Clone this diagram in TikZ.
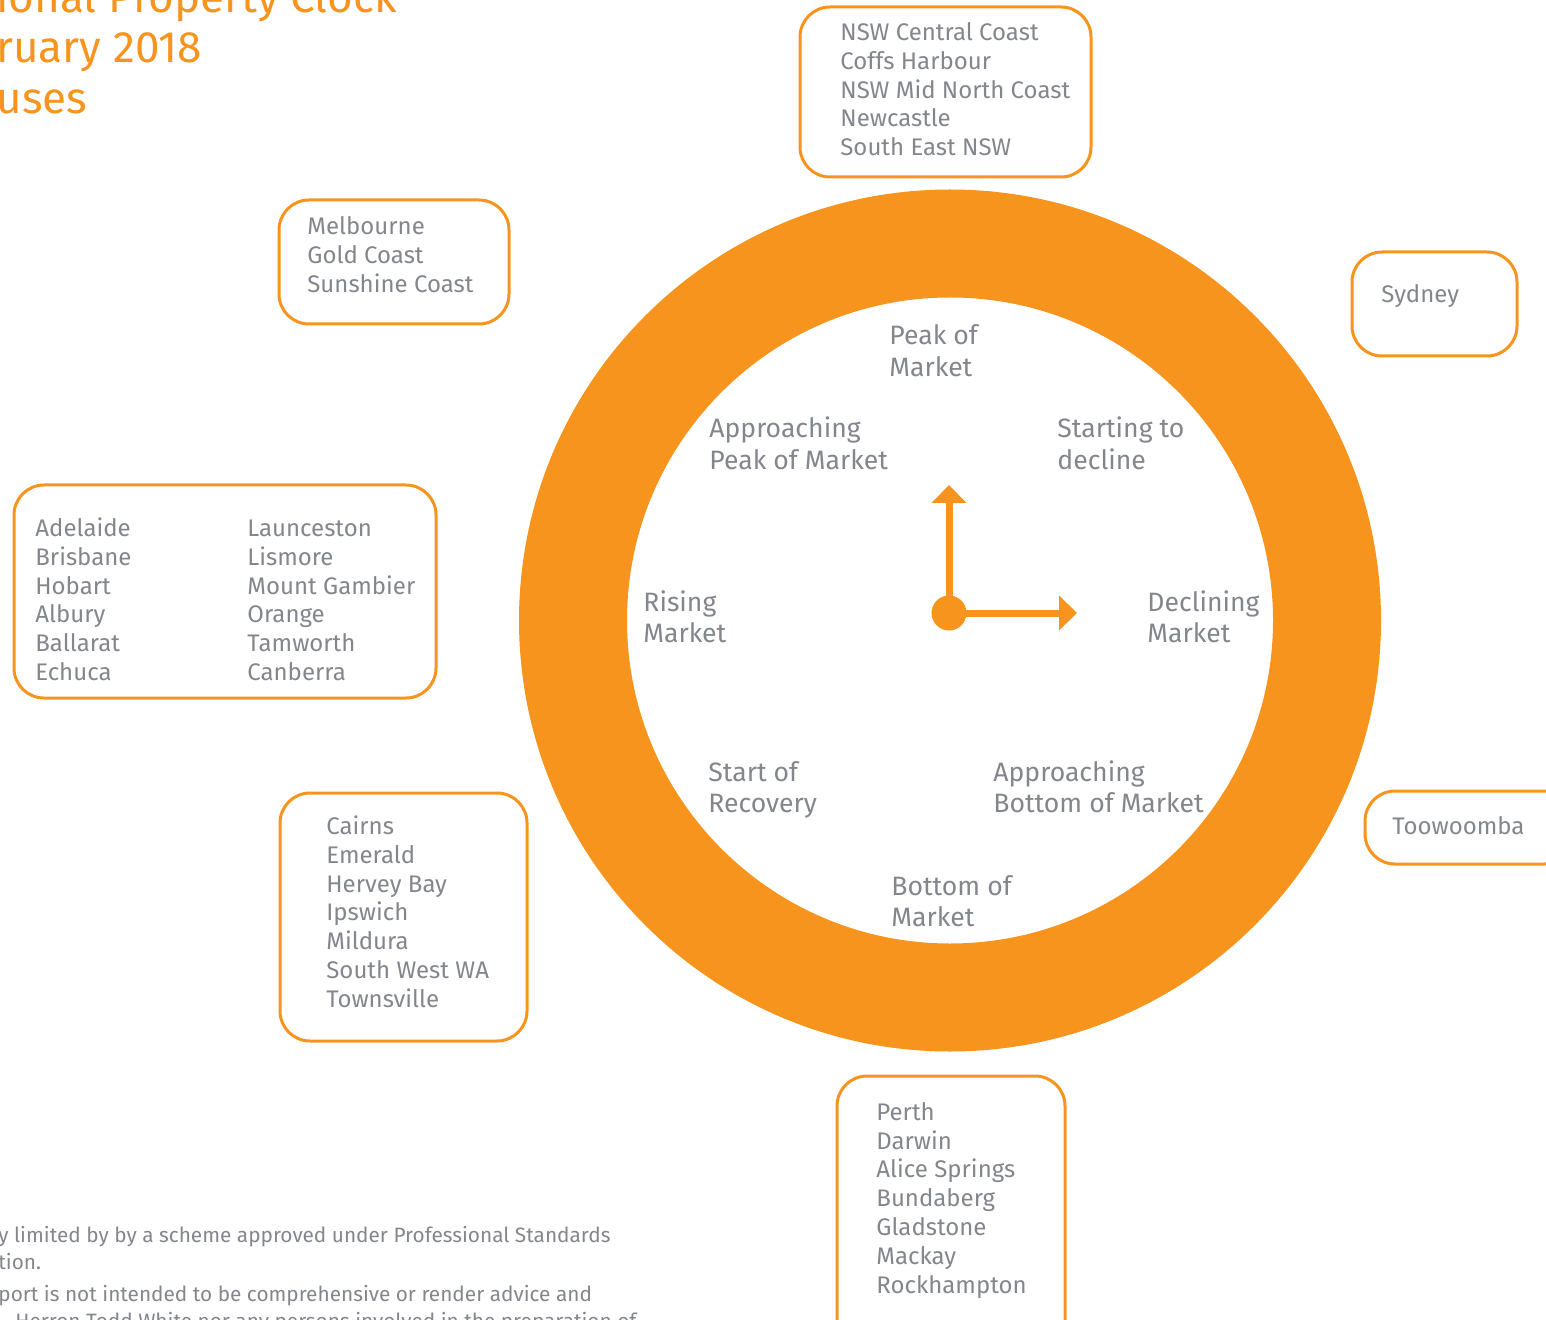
\documentclass[tikz,border=0pt]{standalone}
\usepackage{fontspec}
\setmainfont{Fira Sans}
\usepackage{xcolor}
\usetikzlibrary{arrows.meta, fit}

\definecolor{clockorange}{RGB}{247,148,30}
\definecolor{citygrey}{RGB}{132,134,141}

\tikzset{
    titletext/.style={text=clockorange, font=\fontsize{22}{25.3}\selectfont, align=left, anchor=base west, inner sep=0pt},
    phase/.style={text=citygrey, font=\fontsize{13.3}{15.8}\selectfont, align=left, anchor=base west, inner sep=0pt},
    citylist/.style={text=citygrey, font=\fontsize{12}{14.4}\selectfont, align=left, anchor=base west, inner sep=0pt},
    smallprint/.style={text=citygrey, font=\fontsize{10.4}{13.3}\selectfont, align=left, anchor=base west, inner sep=0pt},
    cityframe/.style={draw=clockorange, line width=1.5pt, rounded corners=15pt, inner sep=0pt},
    hand/.style={clockorange, line width=3.5pt, -{Triangle[length=9pt,width=17pt]}},
}

\begin{document}
\begin{tikzpicture}[x=0.5pt,y=0.5pt]
        % Page size, anything over the edge is cut off
        \useasboundingbox (0,0) rectangle (1546,-1320);
        \clip (0,0) rectangle (1546,-1320);

        % Title (runs off the left edge); nodes are placed by the baseline of their last line
        \node[titletext] (title) at (-4,-113.5) {ional Property Clock\\ruary 2018\\uses};

        % Draw the orange ring
        \fill[clockorange, even odd rule] (950,-620.5) circle[radius=215.5pt]
            (950,-620.5) circle[radius=161.5pt];

        % The eight phases round the dial
        \foreach \x/\y/\name/\txt in {
            889/376.6/peak/{Peak of\\Market},
            709/469.6/approachpeak/{Approaching\\Peak of Market},
            1057/469.6/startdecline/{Starting to\\decline},
            643/642.6/rising/{Rising\\Market},
            1147/642.6/declining/{Declining\\Market},
            708/812.6/startrecovery/{Start of\\Recovery},
            993/812.6/approachbottom/{Approaching\\Bottom of Market},
            891/926.6/bottom/{Bottom of\\Market}} {
            \node[phase] (\name) at (\x,-\y) {\txt};
        }

        % Clock hands
        \node[circle, fill=clockorange, minimum size=17.5pt, inner sep=0pt] (hub) at (949,-613) {};
        \coordinate (noon) at (949,-485);
        \coordinate (three) at (1077,-613);
        \draw[hand] (hub.center) -- (noon);
        \draw[hand] (hub.center) -- (three);

        % Frames round the city lists
        \foreach \name/\ax/\ay/\bx/\by in {
            nsw/800/7/1091/177,
            melb/279/200/509/324,
            syd/1352/252/1517/356,
            adel/14/485/436/698,
            cairns/280/793/527/1041,
            toow/1365/791/1575/864,
            perth/837/1076/1065/1360} {
            \node[cityframe, fit={(\ax,-\ay) (\bx,-\by)}] (\name frame) {};
        }

        % City lists
        \node[citylist] (nswlist) at (840,-155.7) {NSW Central Coast\\Coffs Harbour\\NSW Mid North Coast\\Newcastle\\South East NSW};
        \node[citylist] (melblist) at (307,-292.1) {Melbourne\\Gold Coast\\Sunshine Coast};
        \node[citylist] (sydlist) at (1381,-302.5) {Sydney};
        \node[citylist] (adelleft) at (35,-680.5) {Adelaide\\Brisbane\\Hobart\\Albury\\Ballarat\\Echuca};
        \node[citylist] (adelright) at (247,-680.5) {Launceston\\Lismore\\Mount Gambier\\Orange\\Tamworth\\Canberra};
        \node[citylist] (cairnslist) at (326,-1007.3) {Cairns\\Emerald\\Hervey Bay\\Ipswich\\Mildura\\South West WA\\Townsville};
        \node[citylist] (toowlist) at (1392,-834.5) {Toowoomba};
        \node[citylist] (perthlist) at (876,-1293) {Perth\\Darwin\\Alice Springs\\Bundaberg\\Gladstone\\Mackay\\Rockhampton};

        % Small print at the foot (cut off left and bottom)
        \node[smallprint] (liability) at (-2,-1269) {y limited by by a scheme approved under Professional Standards\\tion.};
        \node[smallprint] (noadvice) at (-2,-1301.7) {port is not intended to be comprehensive or render advice and};
        \node[smallprint] (herron) at (15,-1328.4) {Herron Todd White nor any persons involved in the preparation of};
\end{tikzpicture}
\end{document}
